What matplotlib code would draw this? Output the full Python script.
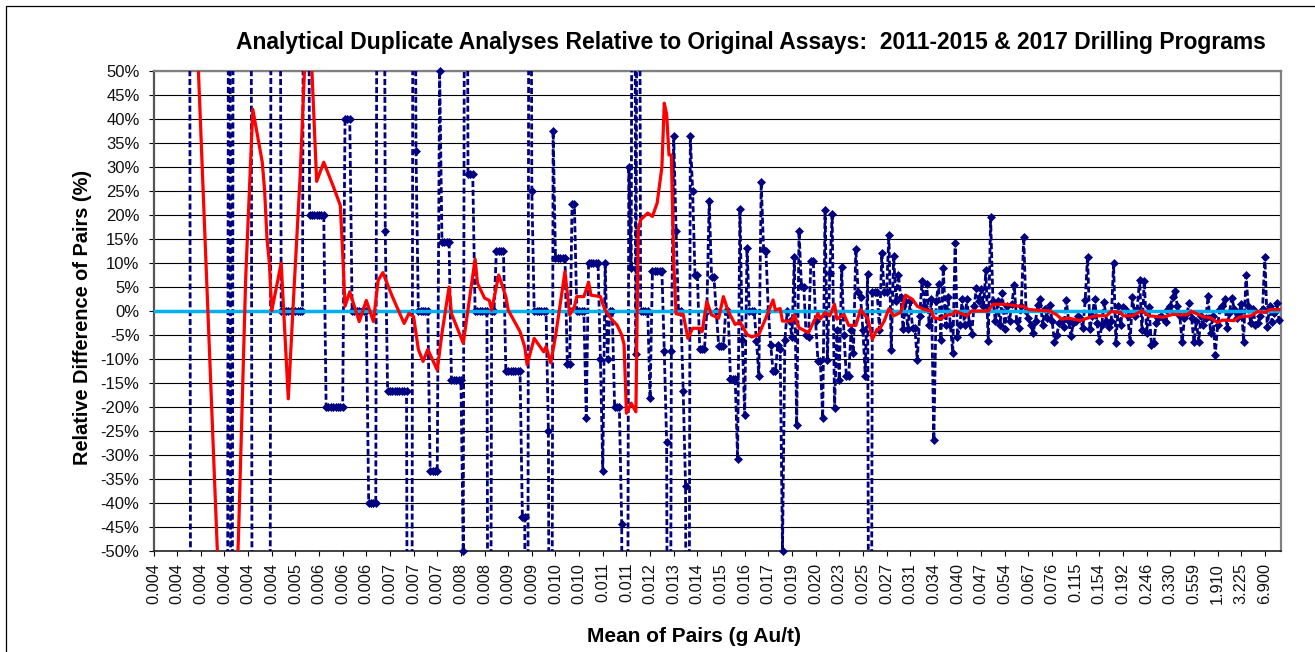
import matplotlib
matplotlib.use("Agg")
import matplotlib.pyplot as plt
from matplotlib.lines import Line2D
from matplotlib.patches import Rectangle

plt.rcParams['font.family'] = ['Liberation Sans', 'DejaVu Sans']

W, H = 1315, 652

title = "Analytical Duplicate Analyses Relative to Original Assays:  2011-2015 & 2017 Drilling Programs"
xlabel = "Mean of Pairs (g Au/t)"
ylabel = "Relative Difference of Pairs (%)"

tick_labels = ["0.004", "0.004", "0.004", "0.004", "0.004", "0.004", "0.005", "0.006", "0.006", "0.006",
               "0.007", "0.007", "0.007", "0.008", "0.008", "0.009", "0.009", "0.010", "0.010", "0.011",
               "0.011", "0.012", "0.013", "0.014", "0.015", "0.016", "0.017", "0.019", "0.020", "0.023",
               "0.025", "0.027", "0.031", "0.034", "0.040", "0.047", "0.054", "0.067", "0.076", "0.115",
               "0.154", "0.192", "0.246", "0.330", "0.559", "1.910", "3.225", "6.900"]

# Relative difference of each pair (%), in sample order (values beyond +/-50 run off the axis)
pair_diff = [
    200, 200, 200, 200, 200, 200, 200, 200, 200, 200,
    200, 200, 200, 200, 200, 200, -200, -200, -200, -200,
    -200, -200, -200, -200, -200, -200, -200, -200, -200, -200,
    -200, -200, 200, -200, 200, 200, 200, 200, 200, 200,
    200, 200, -200, -200, -200, -200, -200, -200, -200, -200,
    200, 200, 200, 200, 0, 0, 0, 0, 0, 0,
    0, 0, 0, 0, 200, 200, 20, 20, 20, 20,
    20, 20, 20, -20, -20, -20, -20, -20, -20, -20,
    -20, 40, 40, 40, 0, 0, 0, 0, 0, 0,
    0, -40, -40, -40, -40, 200, 200, 200, 16.7, -16.7,
    -16.7, -16.7, -16.7, -16.7, -16.7, -16.7, -16.7, -16.7, -200, -200,
    200, 33.3, 0, 0, 0, 0, 0, -33.3, -33.3, -33.3,
    -33.3, 50, 14.3, 14.3, 14.3, 14.3, -14.3, -14.3, -14.3, -14.3,
    -14.3, -50, 200, 28.6, 28.6, 28.6, 0, 0, 0, 0,
    0, 0, -200, 0, 0, 12.5, 12.5, 12.5, 12.5, -12.5,
    -12.5, -12.5, -12.5, -12.5, -12.5, -12.5, -42.9, -42.9, -200, 200,
    25, 0, 0, 0, 0, 0, 0, -25, -200, 37.5,
    11.1, 11.1, 11.1, 11.1, 11.1, -11.1, -11.1, 22.2, 22.2, 0,
    0, 0, 0, -22.2, 10, 10, 10, 10, 10, -10,
    -33.3, 10, -10, 0, 0, -20, -20, -20, -44.4, -200,
    -200, 30, 9, 200, -9, 200, 0, 0, 0, 0,
    -18.2, 8.3, 8.3, 8.3, 8.3, 8.3, -8.3, -27.3, -200, -8.3,
    36.4, 16.7, 0, 0, -16.7, -36.4, -200, 36.4, 25, 7.5,
    7.5, -7.9, -7.9, -7.9, 0, 23, 7.1, 7, 0, -7.2,
    -7.2, -7.2, 0, 0, -14.2, -14.2, -14.2, -30.8, 21.2, -6,
    -21.7, 13.2, 0, 0, 0, -6.2, -13.6, 26.9, 12.8, 12.4,
    0, -7, -12.6, -12.6, -7, -8, -50, -6, 0, -2,
    -5.5, 11.2, -23.7, 16.6, 5.3, 5, -5, -5.5, 10.5, 10.5,
    -2, -10.5, -10.5, -22.2, 21.1, -10.3, 8, 20.2, -20.3, -4,
    -14.3, 9.2, -5, -13.6, -13.6, -4, -8.8, 13, 4, 3,
    -4, -13.5, 7.8, -200, 4, 4, 4, -3.9, 12, 4,
    4, 15.9, -8.1, 11.5, 2, 7.6, 3, -3.7, 2, -3.7,
    2, -3.5, -3.5, -10.3, -1, 6.2, 1, 5.6, -3, 2.5,
    -26.9, 2, 5.7, -6, 9, -3, 3, -3, -8.7, 14.2,
    -5.4, -3, 2.5, -3, 2.5, -2.5, -4.7, 1, 4.7, 2,
    4.6, 1, 8.5, -6.3, 19.5, 2, -2, 2, -3, 3.7,
    -3.8, 1, -2, 1.5, 5.4, -2, -3.5, 1, 15.5, 0,
    -1.5, -3, -4.5, -2, 1.2, 2.6, -2.9, 0.5, -1.5, 1.2,
    -2, -6.4, -5, -2.5, -2, -3.3, 2.2, -2, -5.3, -2.5,
    -2, -1, -1.5, -3.6, 2.2, 11.3, -3.8, -1, 2.6, -2.5,
    -6.2, -3, 1.9, -2, -3.3, -2, 9.9, -6.7, 1, -2.9,
    0.9, 0.5, -1, -6.5, 3, -1, 0.5, 6.5, -4, 6.3,
    -4.6, 0.8, -7, -6.7, -2.5, -1.5, -1, -1.5, -2.2, 0.5,
    1, 3, 4.2, 1, -1, -6.5, -1.5, -0.5, 1.7, -1.5,
    -6.5, -2, -6.4, -1, -3, -1.5, 3.1, -4.5, -1, -9.2,
    -3, 0.5, 1, 2.4, -3.6, -0.5, 2.8, 0.5, -1.5, -0.5,
    1.5, -6.4, 7.4, 1, -2.6, 0.5, -2.9, -2.5, -1, 0.5,
    11.3, -3.4, 1, -2.2, -0.5, 1.7, -1.9,
]

# Moving-average trend: sample position and value (%)
trend_pos = [15, 19, 23, 27, 28, 34, 35, 36, 39, 42, 46, 47, 48, 49, 50, 54, 55, 57, 59, 62,
             64, 66, 67, 69, 72, 76, 79, 80, 81, 83, 87, 90, 93, 95, 97, 101, 106, 108, 110, 112,
             114, 116, 120, 122, 125, 126, 131, 136, 137, 140, 142, 143, 146, 149, 150, 155, 157, 158, 161, 165,
             166, 168, 170, 174, 176, 178, 179, 182, 184, 185, 189, 190, 191, 194, 196, 198, 199, 200, 202, 204,
             205, 206, 209, 211, 213, 215, 216, 217, 218, 219, 220, 221, 224, 226, 228, 231, 232, 234, 236, 239,
             241, 243, 246, 248, 251, 253, 256, 259, 262, 263, 265, 266, 270, 271, 273, 277, 279, 281, 282, 284,
             286, 288, 289, 292, 294, 297, 299, 301, 302, 304, 306, 307, 309, 311, 313, 316, 318, 321, 323, 326,
             329, 330, 333, 335, 338, 339, 344, 346, 353, 355, 360, 366, 368, 370, 379, 382, 384, 387, 392, 396,
             399, 403, 405, 409, 410, 414, 418, 421, 427, 431, 434, 437, 439, 444, 447, 450, 452, 457, 459, 464,
             467, 470, 472, 476]
trend_val = [90, 50, 0, -50, -70, -75, -60, -46, 7, 42, 31, 25, 15, 10, 0, 10, 0.6, -18.3, 0.6, 28,
             52, 55, 50, 27, 31, 26, 22, 12, 1, 4, -2.2, 2.2, -2.2, 6.4, 8, 3, -2.6, -0.5, -1.2, -8,
             -10.5, -8, -12.3, -4.6, 5, -0.5, -6.7, 10.8, 5.8, 2.7, 2.2, 0.2, 7.5, 3, 0.2, -4.3, -7.5, -11.2, -5.7, -8.5,
             -7.4, -10.8, -5.3, 8.2, -0.8, 0.9, 3, 3, 6, 3.3, 3, 1.5, 0.2, -1.9, -2.9, -5, -7, -21.3, -19.2, -21,
             17, 19, 20.4, 19.7, 22.5, 30, 43.3, 41, 32.5, 32.5, 10, -0.6, -0.7, -5.7, -3.6, -3.6, -4.3, 2, -0.8, -1.5,
             3, 0, -2.8, -2.3, -4.9, -5.4, -4.9, -1.4, 2.3, 0.2, 0.5, -2.1, -2.1, -0.8, -3.5, -4.5, -2.4, -0.5, -1.7, -0.3,
             -1, 1.4, -1.7, -0.7, -3, -3, 0.3, -1, -1.4, -5.9, -3.8, -3.8, -2.1, 0.5, -1, -0.3, 3.3, 2.4, 1, 0.3,
             0, -1.4, -1.7, -0.9, -0.7, 0, -1, 0, 0, 1.4, 1.4, 1, 1, 0.3, 0, -0.8, -1.7, -1.5, -2, -1.3,
             -1, -1, -0.1, -0.3, -1, -1, 0, -1, -1.3, -0.7, -0.8, -0.8, -0.1, -1.2, -1.4, -2.4, -1.9, -2, -1.3, -1,
             -0.1, -0.3, 0.3, 0.3]

y_ticks = list(range(-50, 55, 5))

fig = plt.figure(figsize=(W / 100, H / 100), dpi=100, facecolor="white")
ax = fig.add_axes([153.5 / W, 1 - 551 / H, (1280.5 - 153.5) / W, (551 - 71) / H])

positions = list(range(len(pair_diff)))
ax.set_xlim(0, 476.6)
ax.set_ylim(-50, 50)

ax.yaxis.grid(True, color="black", lw=0.8, zorder=1)
ax.set_axisbelow(True)

ax.plot(positions, pair_diff, color="#000080", lw=2.0, ls=(0, (2.2, 1.0)), zorder=3)
marks, = ax.plot(positions, pair_diff, ls="none", marker="D", ms=4.3, mfc="#000080", mec="#000080", mew=0.5, zorder=3)
# markers sitting on the axis limits stick out of the plot area a little
pad = Rectangle((148.5, H - 551 - 5), 1137, 490, transform=None)
marks.set_clip_path(pad)

ax.axhline(0, color="#00B0F0", lw=2.5, zorder=4)
ax.plot(trend_pos, trend_val, color="#FF0000", lw=2.3, zorder=5, solid_joinstyle="round")

ax.set_xticks(list(range(0, 10 * len(tick_labels), 10)))
ax.set_xticklabels(tick_labels, rotation=90, fontsize=11.8, color="#111111")
ax.set_yticks(y_ticks)
ax.set_yticklabels([f"{v}%" for v in y_ticks], fontsize=12, color="#111111")
ax.tick_params(axis="both", length=3.5, width=0.8, color="black", pad=6.5)
ax.tick_params(axis="x", pad=5)

for side in ["top", "right", "left"]:
    ax.spines[side].set_color("#808080")
    ax.spines[side].set_linewidth(1.6)
ax.spines["left"].set_color("#555555")
ax.spines["bottom"].set_color("#222222")
ax.spines["bottom"].set_linewidth(1.2)

fig.text(751 / W, 1 - 42 / H, title, ha="center", va="center", fontsize=16.5, fontweight="bold")
fig.text(694 / W, 1 - 637 / H, xlabel, ha="center", va="center", fontsize=15, fontweight="bold")
fig.text(83 / W, 1 - 317 / H, ylabel, ha="center", va="center", rotation=90, fontsize=14.4, fontweight="bold")

fig.add_artist(Line2D([6.5 / W, 6.5 / W, 1], [0, 1 - 5.5 / H, 1 - 5.5 / H], transform=fig.transFigure,
                      color="black", lw=0.9))

fig.savefig("out.png", dpi=100, facecolor="white")
